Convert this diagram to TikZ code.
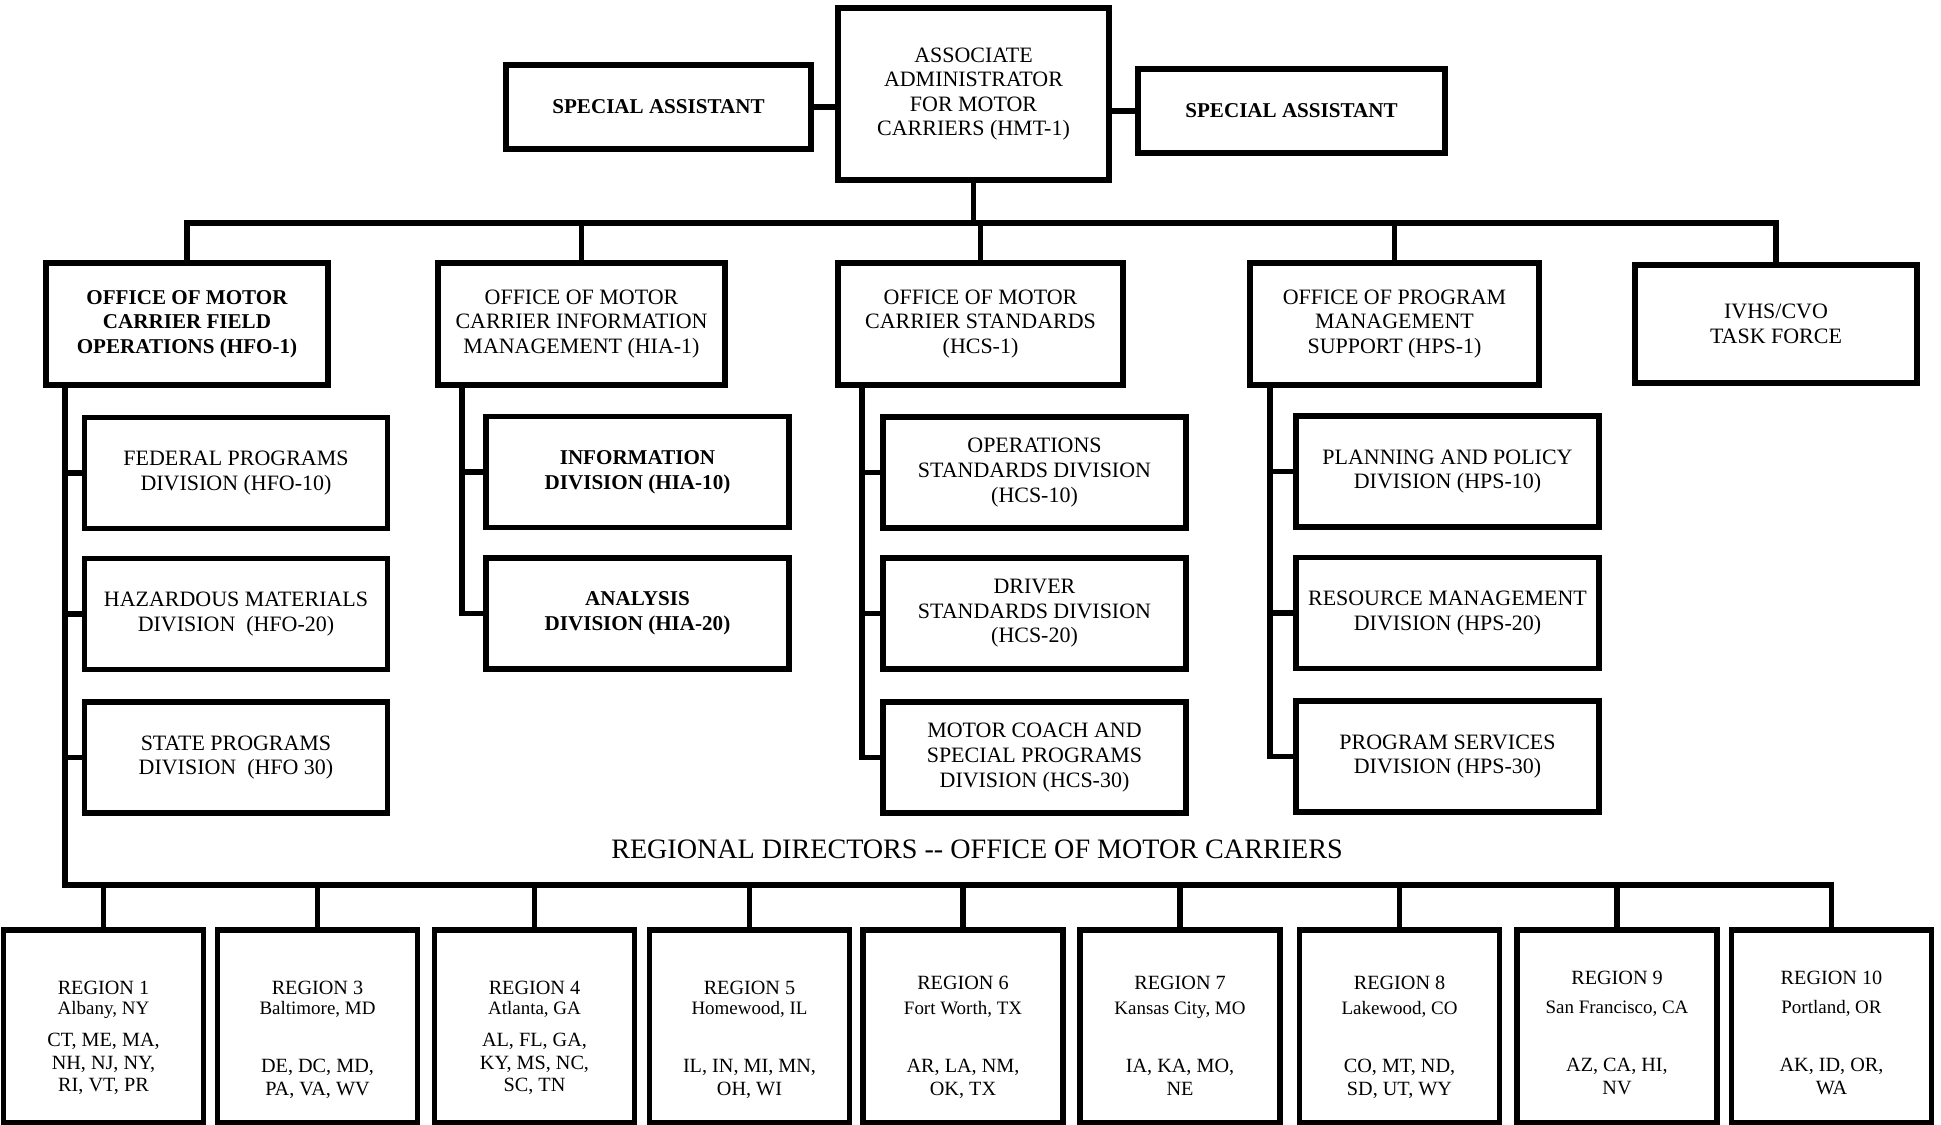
\documentclass[tikz,border=0pt]{standalone}
\usepackage{fontspec}
\setmainfont{Liberation Serif}
\newcommand{\regcity}[1]{{\fontsize{10.8}{10.8}\selectfont #1}}

\begin{document}
\begin{tikzpicture}[x=0.02cm,y=-0.02cm,
  box/.style={draw,line width=3.3pt,align=center,inner sep=0pt,font=\fontsize{12.5}{14}\selectfont},
  heavy/.style={font=\fontsize{12}{14}\selectfont\bfseries},
  subbox/.style={box,minimum width=6.06cm,minimum height=2.22cm},
  regbox/.style={box,minimum width=4cm,minimum height=3.86cm},
  regtext/.style={align=center,inner sep=0pt,anchor=north,font=\fontsize{11.5}{12.7}\selectfont},
  wire/.style={line width=3.2pt}]

\useasboundingbox (0,0) rectangle (1941,1125);

% top
\node[box,minimum width=5.42cm,minimum height=3.44cm] (hmt) at (973.5,94) {ASSOCIATE\\ADMINISTRATOR\\FOR MOTOR\\CARRIERS (HMT-1)};

\node[box,heavy,minimum width=6.1cm,minimum height=1.68cm] (saL) at (658.5,107) {SPECIAL ASSISTANT};

\node[box,heavy,minimum width=6.14cm,minimum height=1.68cm] (saR) at (1291.5,111) {SPECIAL ASSISTANT};

\draw[wire] (saL.east) -- (saL.east -| hmt.west);
\draw[wire] (saR.west) -- (saR.west -| hmt.east);

% offices
\node[box,heavy,minimum width=5.64cm,minimum height=2.44cm] (hfo) at (187,324) {OFFICE OF MOTOR\\CARRIER FIELD\\OPERATIONS (HFO-1)};

\node[box,minimum width=5.74cm,minimum height=2.44cm] (hia) at (581.5,324) {OFFICE OF MOTOR\\CARRIER INFORMATION\\MANAGEMENT (HIA-1)};

\node[box,minimum width=5.7cm,minimum height=2.44cm] (hcs) at (980.5,324) {OFFICE OF MOTOR\\CARRIER STANDARDS\\(HCS-1)};

\node[box,minimum width=5.78cm,minimum height=2.44cm] (hps) at (1394.5,324) {OFFICE OF PROGRAM\\MANAGEMENT\\SUPPORT (HPS-1)};

\node[box,minimum width=5.64cm,minimum height=2.36cm] (ivhs) at (1776,324) {IVHS/CVO\\TASK FORCE};

\coordinate (busT) at (hmt.south |- 0,223);
\draw[wire] (hmt.south) -- (busT);
\draw[wire] (hfo.north) |- (busT) -| (ivhs.north);
\foreach \n in {hia,hcs,hps}
  \draw[wire] (\n.north) -- (\n.north |- busT);

% divisions
\node[subbox] (fed) at (236,473) {FEDERAL PROGRAMS\\DIVISION (HFO-10)};
\node[subbox] (haz) at (236,614) {HAZARDOUS MATERIALS\\DIVISION\ \ (HFO-20)};
\node[subbox] (stp) at (236,757.5) {STATE PROGRAMS\\DIVISION\ \ (HFO 30)};

\node[subbox,heavy] (inf) at (637.5,472) {INFORMATION\\DIVISION (HIA-10)};
\node[subbox,heavy] (ana) at (637.5,613.5) {ANALYSIS\\DIVISION (HIA-20)};

\node[subbox] (ops) at (1034.5,472.5) {OPERATIONS\\STANDARDS DIVISION\\(HCS-10)};
\node[subbox] (drv) at (1034.5,613.5) {DRIVER\\STANDARDS DIVISION\\(HCS-20)};
\node[subbox] (mcs) at (1034.5,757.5) {MOTOR COACH AND\\SPECIAL PROGRAMS\\DIVISION (HCS-30)};

\node[subbox] (pln) at (1447.5,471.5) {PLANNING AND POLICY\\DIVISION (HPS-10)};
\node[subbox] (res) at (1447.5,613) {RESOURCE MANAGEMENT\\DIVISION (HPS-20)};
\node[subbox] (psv) at (1447.5,756.5) {PROGRAM SERVICES\\DIVISION (HPS-30)};

\coordinate (hiaT) at ([xshift=0.54cm]hia.south west);
\draw[wire] (hiaT) |- (ana.west);
\draw[wire] (inf.west -| hiaT) -- (inf.west);

\coordinate (hcsT) at ([xshift=0.54cm]hcs.south west);
\draw[wire] (hcsT) |- (mcs.west);
\draw[wire] (ops.west -| hcsT) -- (ops.west);
\draw[wire] (drv.west -| hcsT) -- (drv.west);

\coordinate (hpsT) at ([xshift=0.46cm]hps.south west);
\draw[wire] (hpsT) |- (psv.west);
\draw[wire] (pln.west -| hpsT) -- (pln.west);
\draw[wire] (res.west -| hpsT) -- (res.west);

\node (title) at (977,849) {\fontsize{16}{16}\selectfont REGIONAL DIRECTORS -{}- OFFICE OF MOTOR CARRIERS};

% regions
\node[regbox] (r1) at (103.5,1026.5) {};
\node[regbox] (r3) at (317.5,1026.5) {};
\node[regbox] (r4) at (534.5,1026.5) {};
\node[regbox] (r5) at (749.5,1026.5) {};
\node[regbox] (r6) at (963,1026.5) {};
\node[regbox] (r7) at (1180,1026.5) {};
\node[regbox] (r8) at (1399.5,1026.5) {};
\node[regbox] (r9) at (1617,1026.5) {};
\node[regbox] (r10) at (1831.5,1026.5) {};

\node[regtext] (r1t) at ([yshift=-1.08cm]r1.north) {REGION 1\\[-1.3pt]\regcity{Albany, NY}\\[5.5pt]CT, ME, MA,\\NH, NJ, NY,\\RI, VT, PR};
\node[regtext] (r3t) at ([yshift=-1.08cm]r3.north) {REGION 3\\[-1.3pt]\regcity{Baltimore, MD}\\[20.3pt]DE, DC, MD,\\PA, VA, WV};
\node[regtext] (r4t) at ([yshift=-1.08cm]r4.north) {REGION 4\\[-1.3pt]\regcity{Atlanta, GA}\\[5.5pt]AL, FL, GA,\\KY, MS, NC,\\SC, TN};
\node[regtext] (r5t) at ([yshift=-1.08cm]r5.north) {REGION 5\\[-1.3pt]\regcity{Homewood, IL}\\[20.3pt]IL, IN, MI, MN,\\OH, WI};
\node[regtext] (r6t) at ([yshift=-0.98cm]r6.north) {REGION 6\\[1.5pt]\regcity{Fort Worth, TX}\\[20.3pt]AR, LA, NM,\\OK, TX};
\node[regtext] (r7t) at ([yshift=-0.98cm]r7.north) {REGION 7\\[1.5pt]\regcity{Kansas City, MO}\\[20.3pt]IA, KA, MO,\\NE};
\node[regtext] (r8t) at ([yshift=-0.98cm]r8.north) {REGION 8\\[1.5pt]\regcity{Lakewood, CO}\\[20.3pt]CO, MT, ND,\\SD, UT, WY};
\node[regtext] (r9t) at ([yshift=-0.88cm]r9.north) {REGION 9\\[3.8pt]\regcity{San Francisco, CA}\\[20.3pt]AZ, CA, HI,\\NV};
\node[regtext] (r10t) at ([yshift=-0.88cm]r10.north) {REGION 10\\[3.8pt]\regcity{Portland, OR}\\[20.3pt]AK, ID, OR,\\WA};

\coordinate (rbus) at (0,885);
\coordinate (hfoT) at ([xshift=0.44cm]hfo.south west);
\draw[wire] (hfoT) -- (hfoT |- rbus) -| (r10.north);
\foreach \b in {fed,haz,stp}
  \draw[wire] (\b.west -| hfoT) -- (\b.west);
\foreach \r in {r1,r3,r4,r5,r6,r7,r8,r9}
  \draw[wire] (\r.north) -- (\r.north |- rbus);

\end{tikzpicture}
\end{document}
